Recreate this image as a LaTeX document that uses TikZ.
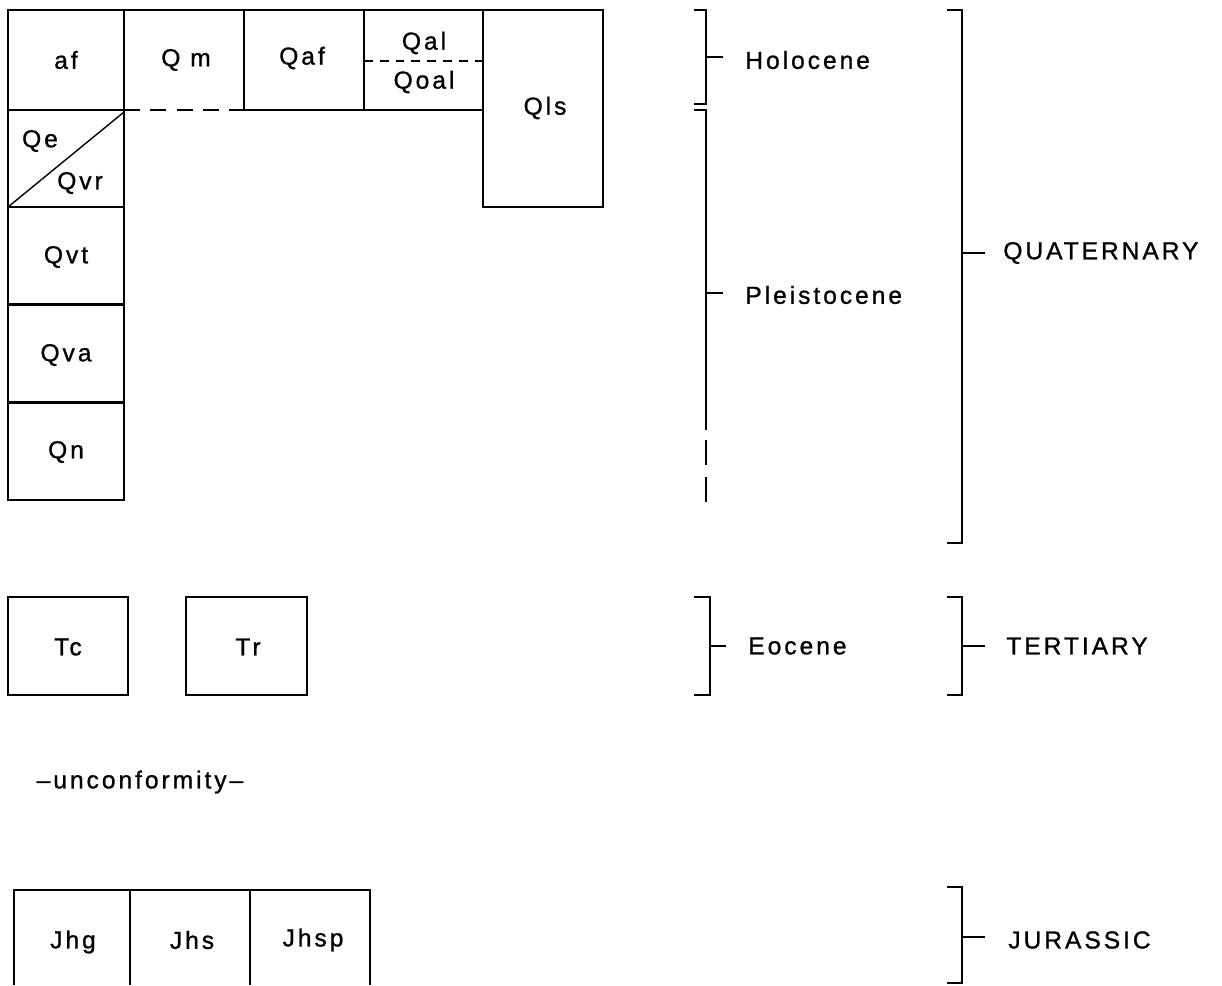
\documentclass[tikz,border=0pt]{standalone}
\usepackage{fontspec}
\newfontfamily\chartfont[LetterSpace=12, FakeBold=1]{Liberation Sans}

\begin{document}
\begin{tikzpicture}[x=0.02cm, y=-0.02cm,
    unit/.style={draw, line width=0.8pt},
    brk/.style={line width=1.3pt},
    lbl/.style={font=\chartfont\fontsize{14}{16}\selectfont, inner sep=0pt}]
    \useasboundingbox (0,0) rectangle (1222,985);

    % Quaternary units, top row
    \draw[unit] (8,10) rectangle (124,110);
    \draw[unit] (124,110) -- (124,10) -- (364,10) -- (364,110) -- (244,110) -- (244,10);
    \draw[unit, dashed, dash pattern=on 9pt off 6pt] (124,110) -- (244,110);
    \draw[unit] (364,10) rectangle (483,110);
    \draw[unit, dashed, dash pattern=on 5pt off 4pt] (364,61) -- (483,61);
    \draw[unit] (483,10) rectangle (603,207);

    % Quaternary units, left column
    \draw[unit] (8,110) rectangle (124,207);
    \draw[unit] (8,207) -- (124,112);
    \foreach \t in {207, 305, 403}
        \draw[unit] (8,\t) rectangle (124,\t+97);

    % Tertiary units
    \draw[unit] (8,597) rectangle (128,695);
    \draw[unit] (186,597) rectangle (307,695);

    % Jurassic units
    \draw[unit] (14,985) -- (14,890) -- (370,890) -- (370,985);
    \draw[unit] (130,890) -- (130,985);
    \draw[unit] (250,890) -- (250,985);

    % Unit labels
    \node[lbl] (af) at (66,60) {af};
    \node[lbl] (qm) at (186,60) {Q m};
    \node[lbl] (qaf) at (302,58) {Qaf};
    \node[lbl] (qal) at (424,43) {Qal};
    \node[lbl] (qoal) at (424,82) {Qoal};
    \node[lbl] (qls) at (545,108) {Qls};
    \node[lbl] (qe) at (40,141) {Qe};
    \node[lbl] (qvr) at (80,183) {Qvr};
    \node[lbl] (qvt) at (66,257) {Qvt};
    \node[lbl] (qva) at (66,355) {Qva};
    \node[lbl] (qn) at (66,452) {Qn};
    \node[lbl] (tc) at (68,647) {Tc};
    \node[lbl] (tr) at (248,647) {Tr};
    \node[lbl] (unconf) at (140,782) {–unconformity–};
    \node[lbl] (jhg) at (73,942) {Jhg};
    \node[lbl] (jhs) at (192,940) {Jhs};
    \node[lbl] (jhsp) at (313,940) {Jhsp};

    % Epoch brackets
    \draw[brk] (694,10) -- (706,10) -- (706,104) -- (694,104);
    \draw[brk] (706,57) -- (723,57);
    \draw[brk] (694,110) -- (706,110) -- (706,430);
    \draw[brk, dashed, dash pattern=on 14pt off 7pt] (706,440) -- (706,505);
    \draw[brk] (706,293) -- (723,293);
    \draw[brk] (694,597) -- (710,597) -- (710,695) -- (694,695);
    \draw[brk] (710,646) -- (726,646);

    % Period brackets
    \foreach \top/\bot/\mid in {10/543/253, 597/695/646, 887/983/937} {
        \draw[brk] (947,\top) -- (962,\top) -- (962,\bot) -- (947,\bot);
        \draw[brk] (962,\mid) -- (985,\mid);
    }

    % Bracket labels
    \node[lbl, anchor=west] (holo) at (745,60) {Holocene};
    \node[lbl, anchor=west] (pleist) at (745,295) {Pleistocene};
    \node[lbl, anchor=west] (eoc) at (748,646) {Eocene};
    \node[lbl, anchor=west] (quat) at (1003,253) {QUATERNARY};
    \node[lbl, anchor=west] (tert) at (1006,646) {TERTIARY};
    \node[lbl, anchor=west] (jur) at (1008,940) {JURASSIC};
\end{tikzpicture}
\end{document}
